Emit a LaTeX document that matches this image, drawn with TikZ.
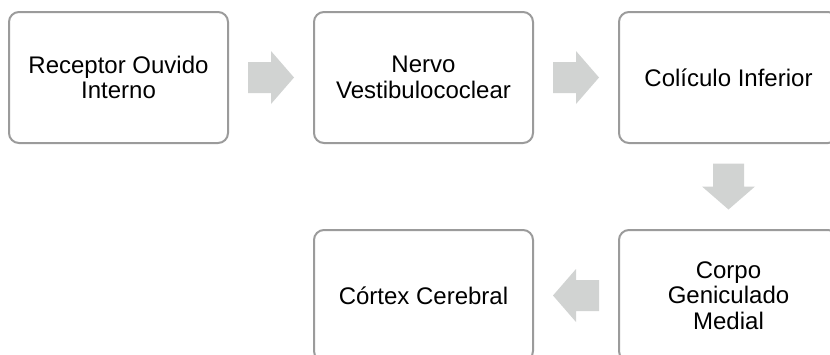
\documentclass[tikz,border=0pt]{standalone}
\usepackage{fontspec}
\setmainfont{Liberation Sans}
\usetikzlibrary{calc}
\definecolor{framegray}{HTML}{9B9B9B}
\definecolor{arrowgray}{HTML}{D1D3D2}
\tikzset{
  flowarrow/.pic={
    \fill[arrowgray] (-23,-15.5) -- (0,-15.5) -- (0,-26.5) -- (23,0)
      -- (0,26.5) -- (0,15.5) -- (-23,15.5) -- cycle;
  }
}
\begin{document}
\begin{tikzpicture}[x=0.5pt,y=-0.5pt,
    stage/.style={draw=framegray,line width=1pt,rounded corners=5pt,
      minimum width=109.5pt,minimum height=65.5pt,inner sep=0pt,
      align=center,font=\fontsize{12}{12.8}\selectfont}]
      \useasboundingbox (0,0) rectangle (830,354);
      \clip (0,0) rectangle (830,354);

      % top row, left to right
      \foreach \name/\x/\txt in {receptor/118.5/{Receptor Ouvido\\Interno},
                                 nervo/423.5/{Nervo\\Vestibulococlear},
                                 coliculo/728.5/{Colículo Inferior}} {
        \node[stage] (\name) at (\x, 77.5) {\txt};
      }

      % bottom row, right to left
      \foreach \name/\x/\txt in {geniculado/728.5/{Corpo\\Geniculado\\Medial},
                                 cortex/423.5/{Córtex Cerebral}} {
        \node[stage] (\name) at (\x, 295.5) {\txt};
      }

      \pic at ($(receptor.east)!0.5!(nervo.west)$) {flowarrow};
      \pic at ($(nervo.east)!0.5!(coliculo.west)$) {flowarrow};
      \pic[rotate=-90] at ($(coliculo.south)!0.5!(geniculado.north)$) {flowarrow};
      \pic[rotate=180] at ($(geniculado.west)!0.5!(cortex.east)$) {flowarrow};
    \end{tikzpicture}
\end{document}
